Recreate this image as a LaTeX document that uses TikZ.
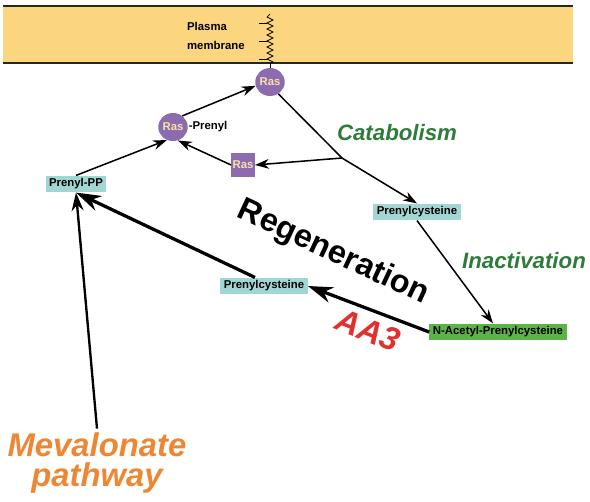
\documentclass[tikz,border=0pt]{standalone}
\usepackage{fontspec}
\setmainfont{Liberation Sans}
\usetikzlibrary{arrows.meta, shapes.geometric}
\definecolor{mbyellow}{HTML}{FCD67E}
\definecolor{raspurple}{HTML}{8D6BAF}
\definecolor{rascream}{HTML}{F6E3A6}
\definecolor{paleteal}{HTML}{A1D6D2}
\definecolor{leafgreen}{HTML}{5DB446}
\definecolor{dkgreen}{HTML}{2F7B3C}
\definecolor{aared}{HTML}{E2302F}
\definecolor{mevorange}{HTML}{EE8733}

\begin{document}
\begin{tikzpicture}[x=0.03cm, y=-0.03cm,
  lbl/.style={font=\fontsize{9.7}{11}\selectfont\bfseries, text=black},
  rasball/.style={ellipse, fill=raspurple, inner sep=0pt, minimum width=0.72cm,
    minimum height=0.84cm, text=rascream, font=\fontsize{9.7}{11}\selectfont\bfseries},
  rasbox/.style={rectangle, fill=raspurple, inner sep=0pt, minimum size=0.7cm,
    text=rascream, font=\fontsize{9.7}{11}\selectfont\bfseries},
  metbox/.style={lbl, fill=paleteal, inner xsep=3pt, inner ysep=0pt, minimum height=0.5cm},
  accbox/.style={metbox, fill=leafgreen},
  thinarr/.style={-{Stealth[length=4.2mm, width=2.9mm]}, line width=1.3pt},
  thickarr/.style={-{Stealth[length=7.5mm, width=4.8mm]}, line width=2.8pt},
  mevarr/.style={-{Stealth[length=5.5mm, width=3.6mm]}, line width=2pt},
  stage/.style={font=\fontsize{19}{22}\selectfont\bfseries\itshape, text=dkgreen}
]
\useasboundingbox (0,0) rectangle (590,501);

% Plasma membrane band
\fill[mbyellow] (3,6) rectangle (573,63);
\draw[line width=1.6pt, black!85] (3,6) -- (573,6) (3,63) -- (573,63);
\node[lbl, align=left, anchor=west, font=\fontsize{9.7}{15.5}\selectfont\bfseries] (pmtext) at (183,36) {Plasma\\membrane};

% Prenyl anchor in the membrane
\coordinate (anctop) at (270,14);
\coordinate (ancbot) at (270,63);
\draw[line width=0.6pt] (anctop) \foreach \k in {0,...,7} { -- (267,17+6*\k) -- (273,20+6*\k) } -- (ancbot);
\foreach \k in {1,4,7} \draw[line width=0.6pt] (259,17+6*\k) -- (267,17+6*\k);

% Ras forms
\node[rasball] (rasmem) at (270,82) {Ras};
\node[rasball] (rasprenyl) at (173,127) {Ras};
\node[lbl, anchor=west, inner sep=0.5pt] (prenyltag) at (rasprenyl.east) {-Prenyl};
\node[rasbox] (rasfree) at (243,165) {Ras};
\draw[line width=0.6pt] (ancbot) -- (rasmem.north);

% Metabolites
\node[metbox] (prenylpp) at (76,184) {Prenyl-PP};
\node[metbox] (cysupper) at (417,212) {Prenylcysteine};
\node[metbox] (cyslower) at (264,286) {Prenylcysteine};
\node[accbox] (acetyl) at (498,332) {N-Acetyl-Prenylcysteine};
\coordinate (branch) at (342,158);

% Labels
\node[stage] (catab) at (397,133) {Catabolism};
\node[stage] (inact) at (524,261) {Inactivation};
\node[font=\fontsize{27.6}{30}\selectfont\bfseries, rotate=-25] (regen) at (333,253) {Regeneration};
\node[font=\fontsize{28}{30}\selectfont\bfseries\itshape, text=aared, rotate=-22] (aathree) at (368,330) {AA3};
\node[font=\fontsize{28}{25.5}\selectfont\bfseries\itshape, text=mevorange, align=center] (mevalonate) at (97,463) {Mevalonate\\pathway};

% Prenylation cycle
\draw[thinarr] (rasprenyl.50) -- (rasmem.195);
\draw[thinarr] (prenylpp.north) -- (rasprenyl.245);
\draw[thinarr] (rasfree.west) -- (rasprenyl.290);
\draw[thinarr] (rasmem.-55) -- (branch) -- (cysupper.north);
\draw[thinarr] (branch) -- (rasfree.east);
\draw[thinarr] (cysupper.south) -- ([xshift=-0.15cm]acetyl.north);

% Regeneration
\draw[thickarr] (acetyl.west) -- (cyslower.east);
\draw[thickarr] ([xshift=-0.27cm]cyslower.north) -- (prenylpp.south);
\draw[mevarr] (mevalonate.north) -- (prenylpp.south);

\end{tikzpicture}
\end{document}
